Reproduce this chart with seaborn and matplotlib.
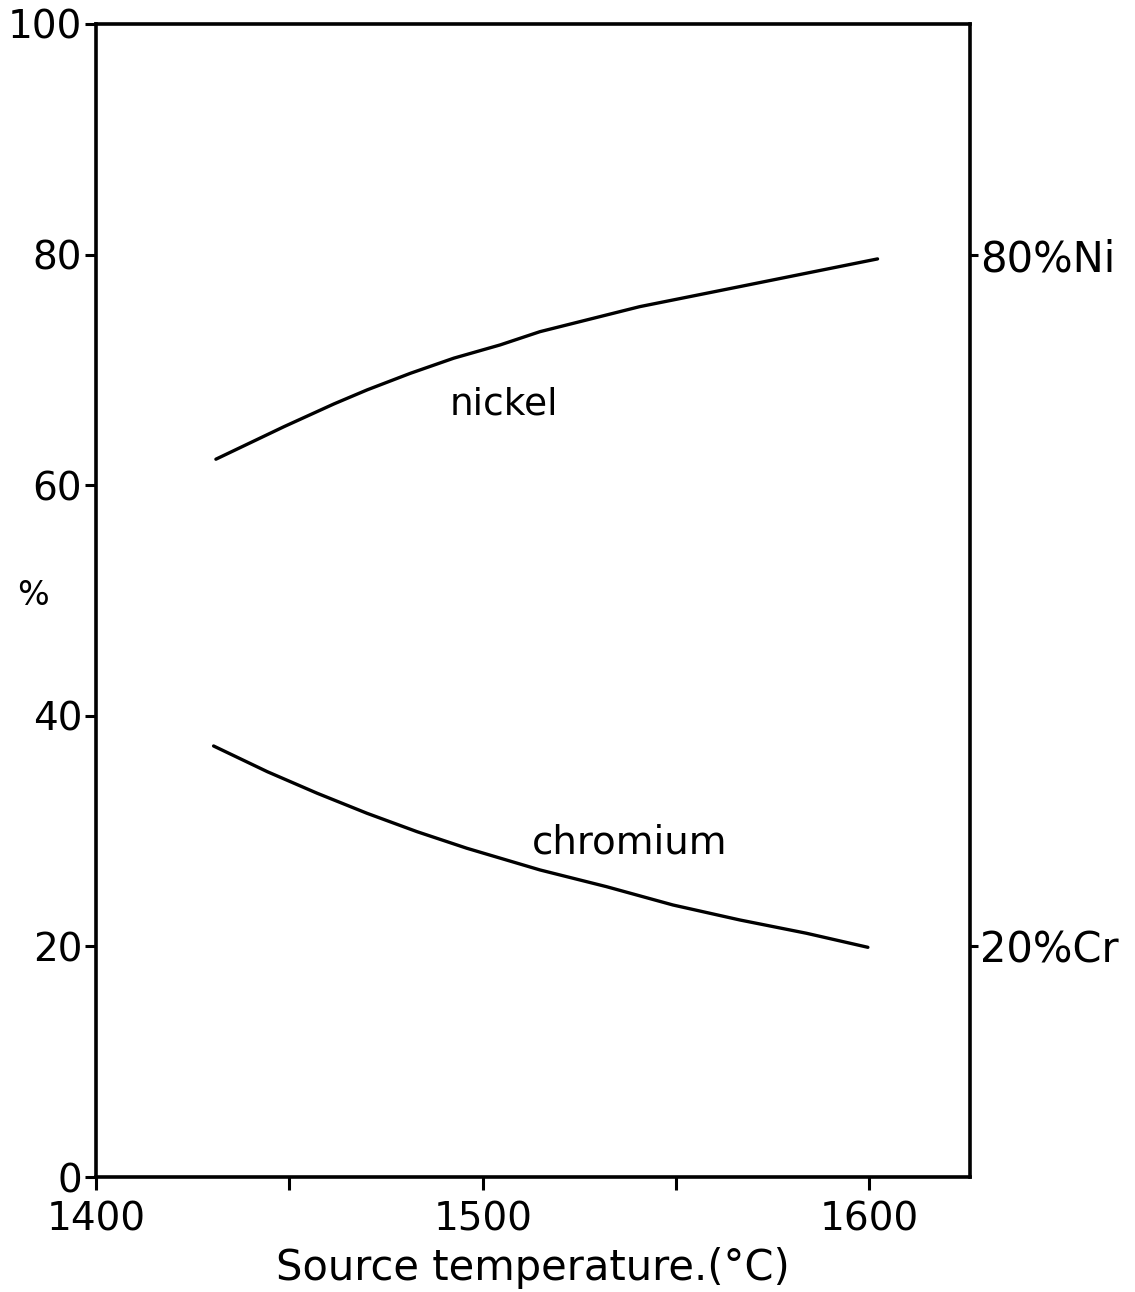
import matplotlib
matplotlib.use("Agg")
import matplotlib.pyplot as plt
from matplotlib.ticker import FixedLocator
import seaborn as sns
import pandas as pd

# Composition of the deposit versus source temperature
nickel_temp = [1431.0, 1448.6, 1461.5, 1470.1, 1481.3, 1492.5, 1504.5,
               1514.8, 1540.6, 1566.5, 1583.7, 1602.1]
nickel_pct = [62.25, 65.07, 67.04, 68.26, 69.70, 71.01, 72.16,
              73.31, 75.48, 77.22, 78.38, 79.62]
chromium_temp = [1430.4, 1444.3, 1457.2, 1470.1, 1483.0, 1495.9, 1514.8,
                 1532.0, 1549.2, 1566.5, 1583.7, 1599.6]
chromium_pct = [37.38, 35.15, 33.28, 31.54, 29.95, 28.51, 26.63,
                25.18, 23.59, 22.29, 21.14, 19.92]

x_ticks = [1400, 1500, 1600]
x_minor = [1450, 1550]
y_ticks = [0, 20, 40, 60, 80, 100]
right_ticks = [20, 80]
right_labels = ["20%Cr", "80%Ni"]

df = pd.concat([
    pd.DataFrame({"temp": nickel_temp, "pct": nickel_pct, "metal": "nickel"}),
    pd.DataFrame({"temp": chromium_temp, "pct": chromium_pct, "metal": "chromium"}),
])

sns.set_theme(style="white")
plt.rcParams["font.family"] = ["DejaVu Sans"]

fig = plt.figure(figsize=(11.35, 12.92), dpi=100)
ax = fig.add_axes([0.0846, 0.0890, 0.7700, 0.8925])

sns.lineplot(data=df, x="temp", y="pct", units="metal", estimator=None,
             color="black", linewidth=2.4, ax=ax, legend=False, sort=True)

ax.set_xlim(1400, 1626)
ax.set_ylim(0, 100)

ax.set_xticks(x_ticks)
ax.xaxis.set_minor_locator(FixedLocator(x_minor))
ax.set_yticks(y_ticks)
ax.tick_params(axis="x", which="major", bottom=True, direction="out", length=9,
               width=2.2, labelsize=28, pad=8, color="black", labelcolor="black")
ax.tick_params(axis="x", which="minor", bottom=True, direction="out", length=9,
               width=2.2, color="black")
ax.tick_params(axis="y", left=True, direction="out", length=8, width=2.2,
               labelsize=28, pad=2, color="black", labelcolor="black")

for side in ["left", "right", "top", "bottom"]:
    ax.spines[side].set_visible(True)
    ax.spines[side].set_color("black")
    ax.spines[side].set_linewidth(2.6)

ax.set_xlabel("Source temperature.(°C)", fontsize=30, labelpad=6, color="black")
ax.set_ylabel("%", fontsize=24, rotation=0, color="black")
ax.yaxis.set_label_coords(-0.072, 0.49)

ax2 = ax.twinx()
ax2.set_ylim(0, 100)
ax2.set_yticks(right_ticks)
ax2.set_yticklabels(right_labels)
ax2.tick_params(axis="y", right=True, direction="out", length=6, width=2.2,
                labelsize=30, pad=1, color="black", labelcolor="black")
for side in ["left", "right", "top", "bottom"]:
    ax2.spines[side].set_visible(False)

ax.text(1505.5, 67.0, "nickel", fontsize=27, ha="center", va="center", color="black")
ax.text(1538, 29.0, "chromium", fontsize=28, ha="center", va="center", color="black")

fig.savefig("out.png", dpi=100, facecolor="white")
